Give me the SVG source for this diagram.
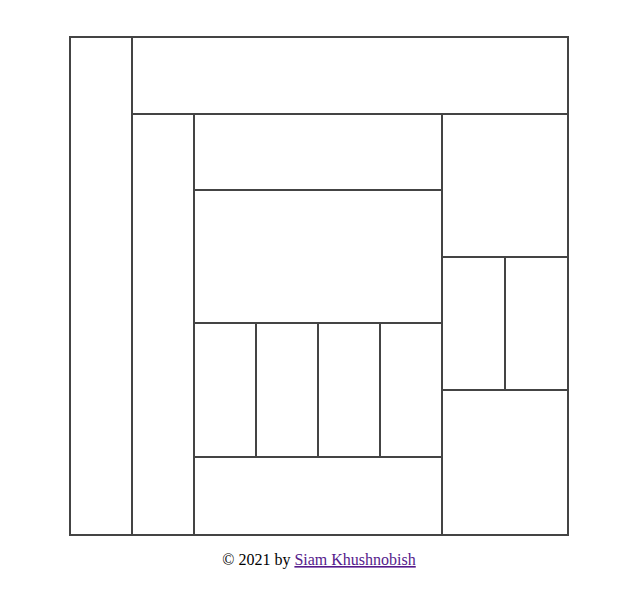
<svg xmlns="http://www.w3.org/2000/svg" width="635" height="592" viewBox="0 0 635 592">
<style>
.c{fill:#fff;stroke:#444;stroke-width:2}
.t{font-family:"Liberation Serif","Times New Roman",serif;font-size:16px;fill:#000}
.a{fill:#551a8b;text-decoration:underline}
</style>
<rect width="635" height="592" fill="#fff"/>
<g id="grid">
<rect id="left" class="c" x="70" y="37" width="62" height="498"/>
<rect id="top" class="c" x="132" y="37" width="436" height="77"/>
<rect id="col2" class="c" x="132" y="114" width="62" height="421"/>
<rect id="inner-top" class="c" x="194" y="114" width="248" height="76"/>
<rect id="inner-mid" class="c" x="194" y="190" width="248" height="133"/>
<rect id="cell1" class="c" x="194" y="323" width="62" height="134"/>
<rect id="cell2" class="c" x="256" y="323" width="62" height="134"/>
<rect id="cell3" class="c" x="318" y="323" width="62" height="134"/>
<rect id="cell4" class="c" x="380" y="323" width="62" height="134"/>
<rect id="inner-bottom" class="c" x="194" y="457" width="248" height="78"/>
<rect id="right-top" class="c" x="442" y="114" width="126" height="143"/>
<rect id="right-mid1" class="c" x="442" y="257" width="63" height="133"/>
<rect id="right-mid2" class="c" x="505" y="257" width="63" height="133"/>
<rect id="right-bottom" class="c" x="442" y="390" width="126" height="145"/>
</g>
<text class="t" x="319" y="565" text-anchor="middle">© 2021 by <tspan class="a">Siam Khushnobish</tspan></text>
</svg>
